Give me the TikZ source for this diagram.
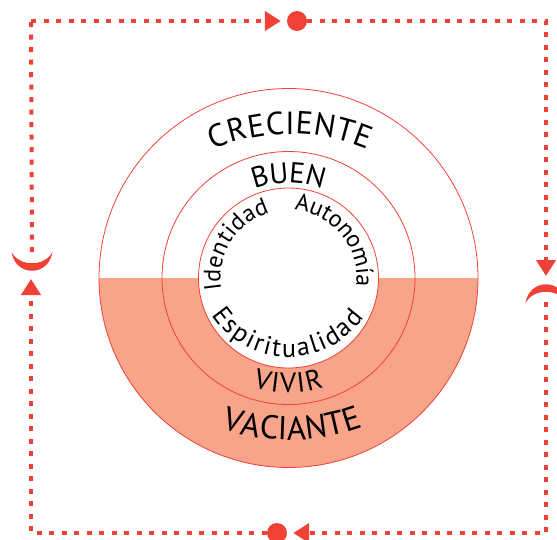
\documentclass[tikz,border=0pt]{standalone}
\usepackage{fontspec}
\setmainfont{PT Sans}
\usetikzlibrary{arrows.meta}
\definecolor{cred}{HTML}{EF4136}
\definecolor{csal}{HTML}{F7A48B}
% letters along an arc: #1 centre, #2 radius, #3 start angle, #4 end angle, #5 font, #6 letters
\newcommand{\arctext}[6]{%
  \begingroup
  #5%
  \gdef\arcsum{0}\gdef\arcn{0}%
  \foreach \ch in {#6}{%
    \pgfmathwidth{"\ch"}\pgfmathsetmacro\tmpw{\pgfmathresult}%
    \pgfmathsetmacro\tmps{\arcsum+\tmpw}\xdef\arcsum{\tmps}%
    \pgfmathsetmacro\tmpn{\arcn+1}\xdef\arcn{\tmpn}%
  }%
  \pgfmathsetmacro\arclen{abs(#4-#3)*pi/180*#2}%
  \pgfmathsetmacro\arcgap{(\arclen-\arcsum)/(\arcn-1)}%
  \pgfmathsetmacro\arcdir{(#4>#3) ? 1 : -1}%
  \gdef\arcpos{0}%
  \foreach \ch in {#6}{%
    \pgfmathwidth{"\ch"}\pgfmathsetmacro\tmpw{\pgfmathresult}%
    \pgfmathsetmacro\tmpang{#3+\arcdir*(\arcpos+\tmpw/2)/#2*180/pi}%
    \pgfmathsetmacro\tmprot{\tmpang+\arcdir*90}%
    \node[arcletter, font={#5}, rotate=\tmprot] at ([shift={(\tmpang:#2)}]#1) {\ch};
    \pgfmathsetmacro\tmpp{\arcpos+\tmpw+\arcgap}\xdef\arcpos{\tmpp}%
  }%
  \endgroup}
\begin{document}
\begin{tikzpicture}[x=1pt,y=1pt,
  ring/.style={draw=cred, line width=0.8pt, circle, inner sep=0pt},
  loopline/.style={draw=cred, line width=4pt, dash pattern=on 5pt off 7.5pt},
  tipA/.style={-{Triangle[length=16pt,width=19pt]}},
  dotnode/.style={circle, fill=cred, minimum size=20pt, inner sep=0pt},
  arcletter/.style={anchor=base, inner sep=0pt, outer sep=0pt, text=black},
]
\useasboundingbox (0,0) rectangle (557,-539);
\coordinate (C) at (288.5,-278);
\coordinate (Ccre) at (290.5,-334);
\coordinate (Cesp) at (288.5,-265);
\coordinate (Cvac) at (290,-230);

% lower half fill of the rings
\fill[csal] (C) ++(-189.5,0) arc[start angle=180, end angle=360, radius=189.5]
  -- ++(-99.5,0) arc[start angle=0, end angle=-180, radius=90] -- cycle;

% circles
\node[ring, minimum size=379pt] (outer) at (C) {};
\node[ring, minimum size=253pt] (middle) at (C) {};
\node[ring, minimum size=180pt] (inner) at (C) {};

% curved texts
\arctext{Ccre}{200}{112.8}{67.2}{\fontsize{32}{32}\selectfont}{C,R,E,C,I,E,N,T,E}
\arctext{C}{95}{111}{69}{\fontsize{29}{29}\selectfont}{B,U,E,N}
\arctext{C}{68}{190}{106}{\fontsize{24}{24}\selectfont}{I,d,e,n,t,i,d,a,d}
\arctext{C}{68}{85}{-7}{\fontsize{24}{24}\selectfont}{A,u,t,o,n,o,m,í,a}
\arctext{Cesp}{92}{213}{325}{\fontsize{26}{26}\selectfont}{E,s,p,i,r,i,t,u,a,l,i,d,a,d}
\arctext{C}{115}{252}{288}{\fontsize{28}{28}\selectfont}{V,I,V,I,R}
\arctext{Cvac}{210}{251.1}{290.3}{\fontsize{33}{33}\selectfont}{V,A,C,I,A,N,T,E}

% cycle loop
\coordinate (TL) at (31,-21);
\coordinate (TR) at (546,-21);
\coordinate (BR) at (546,-533);
\coordinate (BL) at (31,-533);
\node[dotnode] (topdot) at (297,-21) {};
\node[dotnode] (botdot) at (277,-533) {};
\coordinate (lcres) at (32,-262);
\coordinate (rcres) at (546,-293);
\coordinate (rtip) at (546,-276);
\coordinate (ltip) at (31,-279);

\fill[cred] (lcres) ++(-20.5,10) .. controls +(4,-25) and +(-4,-25) .. ++(41,0)
  .. controls +(-8,-15) and +(8,-15) .. ++(-41,0) -- cycle;
\fill[cred] (rcres) ++(-20.5,-10) .. controls +(4,25) and +(-4,25) .. ++(41,0)
  .. controls +(-8,15) and +(8,15) .. ++(-41,0) -- cycle;

\draw[loopline, tipA] (TL) -- ([xshift=-6pt]topdot.west);
\draw[loopline, tipA] (topdot.east) -- (TR) -- (rtip);
\draw[loopline, tipA] ([yshift=-9pt]rcres) -- (BR) -- ([xshift=6pt]botdot.east);
\draw[loopline, tipA] (botdot.west) -- (BL) -- (ltip);
\draw[loopline] ([yshift=10pt]lcres) -- (TL);
\end{tikzpicture}
\end{document}
